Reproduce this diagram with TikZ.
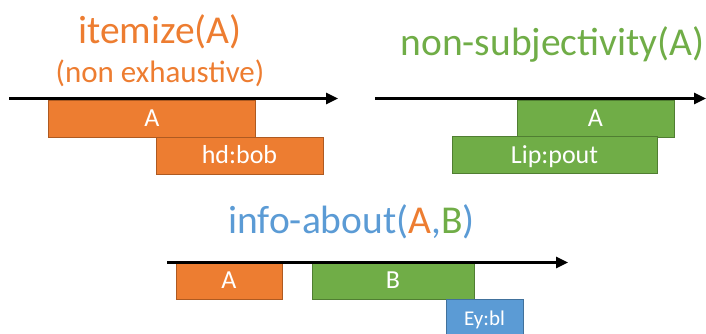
\documentclass[tikz,border=0pt]{standalone}
\usepackage{fontspec}
\setmainfont{Carlito}
\usetikzlibrary{arrows.meta}
\definecolor{orf}{HTML}{ED7D31}
\definecolor{ord}{HTML}{AE5A21}
\definecolor{grf}{HTML}{70AD47}
\definecolor{grd}{HTML}{507E32}
\definecolor{blf}{HTML}{5B9BD5}
\definecolor{bld}{HTML}{41719C}
\tikzset{
  tl/.style={line width=2.5bp, -{Triangle[length=12bp,width=11bp]}},
  boxbase/.style={rectangle, line width=1bp, inner sep=0pt, text=white,
    font=\fontsize{26bp}{30bp}\selectfont, text height=16.8bp, text depth=0pt},
  obox/.style={boxbase, fill=orf, draw=ord},
  gbox/.style={boxbase, fill=grf, draw=grd},
  bbox/.style={boxbase, fill=blf, draw=bld, font=\fontsize{21bp}{25bp}\selectfont, text height=13.6bp},
  ttl/.style={inner sep=0pt, anchor=base, font=\fontsize{39.5bp}{44bp}\selectfont},
}
\begin{document}
\begin{tikzpicture}[x=1bp,y=-1bp]
\useasboundingbox (0,0) rectangle (706,333);
% top-left
\node[ttl, text=orf] (t1) at (160,43) {itemize(A)};
\node[ttl, text=orf, font=\fontsize{31bp}{34bp}\selectfont] (t1b) at (160,82) {(non exhaustive)};
\node[obox, minimum width=206bp, minimum height=37bp] (a1) at (152,118.5) {A};
\node[obox, minimum width=167bp, minimum height=37bp] (h1) at (239.5,155.5) {hd:bob};
\coordinate (s1) at (9,98.5);
\coordinate (e1) at (338,98.5);
\draw[tl] (s1) -- (e1);
% top-right
\node[ttl, text=grf] (t2) at (552.5,55) {non-subjectivity(A)};
\node[gbox, minimum width=157bp, minimum height=37bp] (a2) at (595.5,118.5) {A};
\node[gbox, minimum width=205bp, minimum height=37bp] (l2) at (554.5,155) {Lip:pout};
\coordinate (s2) at (375,98.5);
\coordinate (e2) at (706,98.5);
\draw[tl] (s2) -- (e2);
% bottom
\node[ttl, text=blf] (t3) at (351.5,233) {info-about(\textcolor{orf}{A},\textcolor{grf}{B})};
\node[obox, minimum width=106bp, minimum height=37bp] (a3) at (229,280.5) {A};
\node[gbox, minimum width=162bp, minimum height=37bp] (b3) at (393,280.5) {B};
\node[bbox, minimum width=77bp, minimum height=40bp] (e3) at (484.5,319) {Ey:bl};
\coordinate (s3) at (167,262.5);
\coordinate (e3e) at (568,262.5);
\draw[tl] (s3) -- (e3e);
\end{tikzpicture}
\end{document}
